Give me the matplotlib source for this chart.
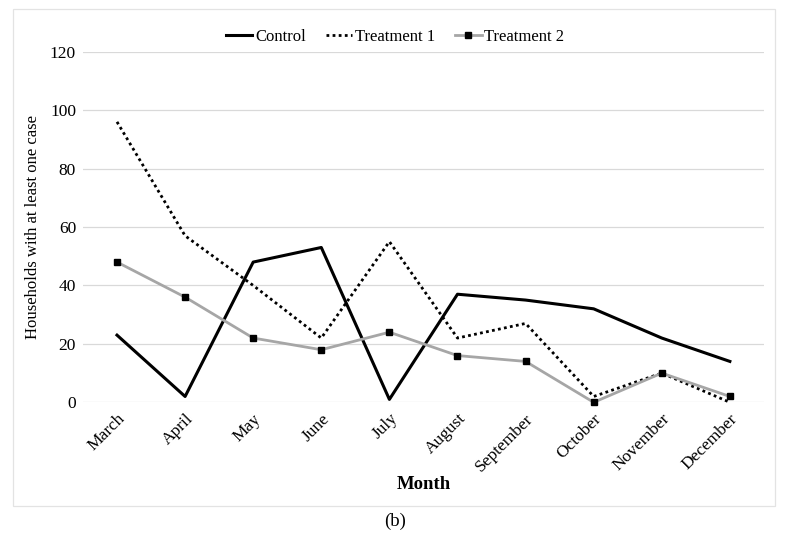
import matplotlib.pyplot as plt
from matplotlib.patches import Rectangle

months = ['March', 'April', 'May', 'June', 'July', 'August', 'September',
          'October', 'November', 'December']
control = [23, 2, 48, 53, 1, 37, 35, 32, 22, 14]
treatment1 = [96, 57, 40, 22, 55, 22, 27, 2, 10, 0]
treatment2 = [48, 36, 22, 18, 24, 16, 14, 0, 10, 2]

plt.rcParams['font.family'] = ['Liberation Serif', 'DejaVu Serif']

fig = plt.figure(figsize=(7.9, 5.36), dpi=100)
ax = fig.add_axes([0.105, 0.2494, 0.862, 0.6541])

x = range(len(months))
ax.plot(x, control, color='black', lw=2.2, label='Control', clip_on=False)
ax.plot(x, treatment1, color='black', lw=2, ls=(0, (1, 1.2)),
        label='Treatment 1', clip_on=False)
ax.plot(x, treatment2, color='#a6a6a6', lw=2, marker='s', markersize=4,
        markerfacecolor='black', markeredgecolor='black',
        label='Treatment 2', clip_on=False)

ax.set_xlim(-0.5, 9.5)
ax.set_ylim(0, 120)
ax.set_yticks(range(0, 121, 20))
ax.set_xticks(list(x))
ax.set_xticklabels(months, rotation=45, ha='right', rotation_mode='anchor')
ax.tick_params(axis='x', length=0, labelsize=12.5, pad=6)
ax.tick_params(axis='y', length=0, labelsize=12.5, pad=5)
ax.grid(axis='y', color='#d9d9d9', lw=0.9)
ax.set_axisbelow(True)
for s in ax.spines.values():
    s.set_visible(False)

ax.set_ylabel('Households with at least one case', fontsize=12)
ax.yaxis.set_label_coords(-0.062, 0.5)
ax.set_xlabel('Month', fontsize=13.5, fontweight='bold')
ax.xaxis.set_label_coords(0.5, -0.21)

ax.legend(loc='center', bbox_to_anchor=(395 / 790, 1 - 37 / 536),
          bbox_transform=fig.transFigure, ncol=3, frameon=False,
          fontsize=12, handlelength=1.6, columnspacing=1.2,
          handletextpad=0.15)

# light frame round the chart area
fig.patches.append(Rectangle((13 / 790, 1 - 506 / 536), 762 / 790, 497 / 536,
                             transform=fig.transFigure, fill=False,
                             edgecolor='#e3e3e3', lw=0.9))
fig.text(395 / 790, 1 - 521 / 536, '(b)', ha='center', va='center',
         fontsize=13.5)

fig.savefig('out.png', dpi=100)
